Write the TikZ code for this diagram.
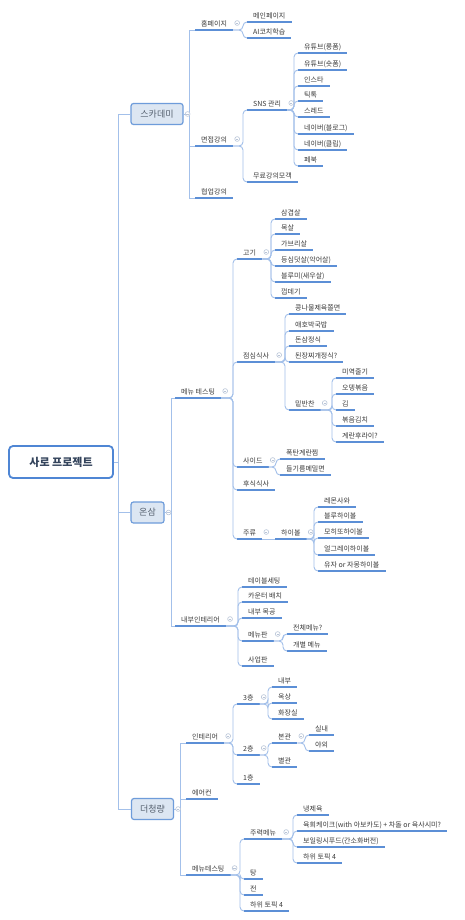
\documentclass[tikz,border=0pt]{standalone}
\usepackage{fontspec}
\newfontfamily\kr{Noto Sans CJK KR}
\definecolor{ulc}{HTML}{5C8FD6}
\definecolor{cnc}{HTML}{A3C0EA}
\definecolor{txt}{HTML}{3A3A3A}
\definecolor{boxf}{HTML}{DCE6F2}
\definecolor{boxb}{HTML}{6E9CDA}
\definecolor{boxt}{HTML}{55606E}
\definecolor{rootb}{HTML}{4F86D4}
\definecolor{roott}{HTML}{34445C}
\definecolor{clc}{HTML}{B9C5D8}
\tikzset{
  ulst/.style={draw=ulc, line width=1.5pt},
  t/.style={anchor=south west, inner xsep=6pt, inner ysep=2pt, text height=5.5pt, text depth=1.5pt,
    font=\kr\fontsize{7}{8}\selectfont, text=txt,
    append after command={(\tikzlastnode.south west) edge[ulst] (\tikzlastnode.south east)}},
  bx/.style={draw=boxb, fill=boxf, line width=1.2pt, rounded corners=2.5pt, minimum height=21pt,
    inner sep=0pt, font=\kr\fontsize{9}{10}\selectfont, text=boxt},
  rootst/.style={draw=rootb, fill=white, line width=1.8pt, rounded corners=4pt, minimum width=104pt,
    minimum height=32pt, inner sep=0pt, font=\kr\bfseries\fontsize{11}{12}\selectfont, text=roott},
  cn/.style={draw=cnc, line width=0.9pt, rounded corners=4pt},
  trunk/.style={draw=cnc, line width=0.9pt},
  clst/.style={draw=clc, line width=0.6pt, fill=white}
}
\newcommand\brn[2]{\foreach \c in {#2} {\draw[cn] (#1.south east) -| ([xshift=-4pt]\c.south west) -- (\c.south west);}}
\newcommand\brb[3]{\foreach \c in {#2} {\draw[trunk] (#1.east) -| ([xshift=-#3]\c.south west) -- (\c.south west);}}
\newcommand\clp[1]{\draw[clst] ([xshift=4pt,yshift=7pt]#1.south east) circle (2.4pt);
  \draw[clst] ([xshift=2.8pt,yshift=7pt]#1.south east) -- ([xshift=5.2pt,yshift=7pt]#1.south east);}
\newcommand\clb[1]{\draw[clst] ([xshift=4pt]#1.east) circle (2.4pt);
  \draw[clst] ([xshift=2.8pt]#1.east) -- ([xshift=5.2pt]#1.east);}
\begin{document}
\begin{tikzpicture}[x=1pt,y=-1pt]
\useasboundingbox (0,0) rectangle (464,920);
\fill[white] (0,0) rectangle (464,920);

% root and main boxes
\node[rootst] (root) at (61,462) {사로 프로젝트};
\node[bx, minimum width=52pt] (sk) at (157,114) {스카데미};
\node[bx, minimum width=33pt] (os) at (147.5,512.5) {온삼};
\node[bx, minimum width=42pt] (dc) at (152.5,809) {더청량};

% ---- 스카데미
\node[t] (hp) at (195,30) {홈페이지};
\node[t] (mj) at (195,146) {면접강의};
\node[t] (hy) at (195,198) {협업강의};
\node[t] (mp) at (247,22) {메인페이지};
\node[t] (ai) at (247,38) {AI코치학습};
\node[t] (sns) at (247,110) {SNS 관리};
\node[t] (mr) at (247,182) {무료강의모객};
\node[t] (s1) at (298,53) {유튜브(롱폼)};
\node[t] (s2) at (298,70) {유튜브(숏폼)};
\node[t] (s3) at (298,86) {인스타};
\node[t] (s4) at (298,101) {틱톡};
\node[t] (s5) at (298,117) {스레드};
\node[t] (s6) at (298,134) {네이버(블로그)};
\node[t] (s7) at (298,150) {네이버(클립)};
\node[t] (s8) at (298,166) {페북};

% ---- 온삼
\node[t] (mt) at (175,398) {메뉴 테스팅};
\node[t] (ni) at (175,626) {내부인테리어};
\node[t] (gg) at (237,259) {고기};
\node[t] (g1) at (275,219) {삼겹살};
\node[t] (g2) at (275,234) {목살};
\node[t] (g3) at (275,250) {가브리살};
\node[t] (g4) at (275,266) {등심덧살(악어살)};
\node[t] (g5) at (275,282) {블루미(새우살)};
\node[t] (g6) at (275,298) {껍데기};
\node[t] (jm) at (237,362) {점심식사};
\node[t] (j1) at (289,314) {콩나물제육쫄면};
\node[t] (j2) at (289,331) {애호박국밥};
\node[t] (j3) at (289,346) {돈삼정식};
\node[t] (j4) at (289,362) {된장찌개정식?};
\node[t] (mb) at (289,410) {밑반찬};
\node[t] (m1) at (336,378) {미역줄기};
\node[t] (m2) at (336,394) {오뎅볶음};
\node[t] (m3) at (336,410) {김};
\node[t] (m4) at (336,426) {볶음김치};
\node[t] (m5) at (336,442) {계란후라이?};
\node[t] (sd) at (237,467) {사이드};
\node[t] (d1) at (280,459) {폭탄계란찜};
\node[t] (d2) at (280,475) {들기름메밀면};
\node[t] (hs) at (237,490) {후식식사};
\node[t] (jr) at (237,539) {주류};
\node[t] (hb) at (275,539) {하이볼};
\node[t] (h1) at (318,507) {레몬사와};
\node[t] (h2) at (318,522) {블루하이볼};
\node[t] (h3) at (318,538) {모히또하이볼};
\node[t] (h4) at (318,555) {얼그레이하이볼};
\node[t] (h5) at (318,571) {유자 or 자몽하이볼};
\node[t] (n1) at (242,587) {테이블세팅};
\node[t] (n2) at (242,602) {카운터 배치};
\node[t] (n3) at (242,618) {내부 목공};
\node[t] (mn) at (242,641) {메뉴판};
\node[t] (n5) at (242,666) {사업판};
\node[t] (e1) at (287,634) {전체메뉴?};
\node[t] (e2) at (287,651) {개별 메뉴};

% ---- 더청량
\node[t] (it) at (186,743) {인테리어};
\node[t] (ac) at (186,799) {에어컨};
\node[t] (tt) at (186,875) {메뉴테스팅};
\node[t] (f3) at (237,704) {3층};
\node[t] (f2) at (237,755) {2층};
\node[t] (f1) at (237,784) {1층};
\node[t] (a1) at (272,687) {내부};
\node[t] (a2) at (272,703) {옥상};
\node[t] (a3) at (272,719) {화장실};
\node[t] (bg) at (272,743) {본관};
\node[t] (bb) at (272,767) {별관};
\node[t] (b1) at (309,735) {실내};
\node[t] (b2) at (309,751) {야외};
\node[t] (jk) at (244,839) {주력메뉴};
\node[t] (k2) at (244,879) {탕};
\node[t] (k3) at (244,895) {전};
\node[t] (k4) at (244,911) {하위 토픽 4};
\node[t] (r1) at (297,815) {냉제육};
\node[t] (r2) at (297,831) {육회케이크(with 아보카도) + 차돌 or 육사시미?};
\node[t] (r3) at (297,847) {보일링시푸드(간소화버전)};
\node[t] (r4) at (297,863) {하위 토픽 4};

% ---- connectors
\foreach \b in {sk,os,dc} {\draw[trunk] (root.east) -| ([xshift=-12pt]\b.west) -- (\b.west);}
\brb{sk}{hp,mj,hy}{6pt}
\brb{os}{mt,ni}{4pt}
\brb{dc}{it,ac,tt}{6pt}
\brn{hp}{mp,ai}
\brn{mj}{sns,mr}
\brn{sns}{s1,s2,s3,s4,s5,s6,s7,s8}
\brn{mt}{gg,jm,sd,hs,jr}
\brn{gg}{g1,g2,g3,g4,g5,g6}
\brn{jm}{j1,j2,j3,j4,mb}
\brn{mb}{m1,m2,m3,m4,m5}
\brn{sd}{d1,d2}
\draw[cn] (jr.south east) -- (hb.south west);
\brn{hb}{h1,h2,h3,h4,h5}
\brn{ni}{n1,n2,n3,mn,n5}
\brn{mn}{e1,e2}
\brn{it}{f3,f2,f1}
\brn{f3}{a1,a2,a3}
\brn{f2}{bg,bb}
\brn{bg}{b1,b2}
\brn{tt}{jk,k2,k3,k4}
\brn{jk}{r1,r2,r3,r4}

% ---- collapse markers
\clb{sk}\clb{os}\clb{dc}
\clp{hp}\clp{mj}\clp{sns}
\clp{mt}\clp{gg}\clp{jm}\clp{mb}\clp{sd}\clp{jr}\clp{hb}\clp{ni}\clp{mn}
\clp{it}\clp{f3}\clp{f2}\clp{bg}\clp{tt}\clp{jk}
\end{tikzpicture}
\end{document}
